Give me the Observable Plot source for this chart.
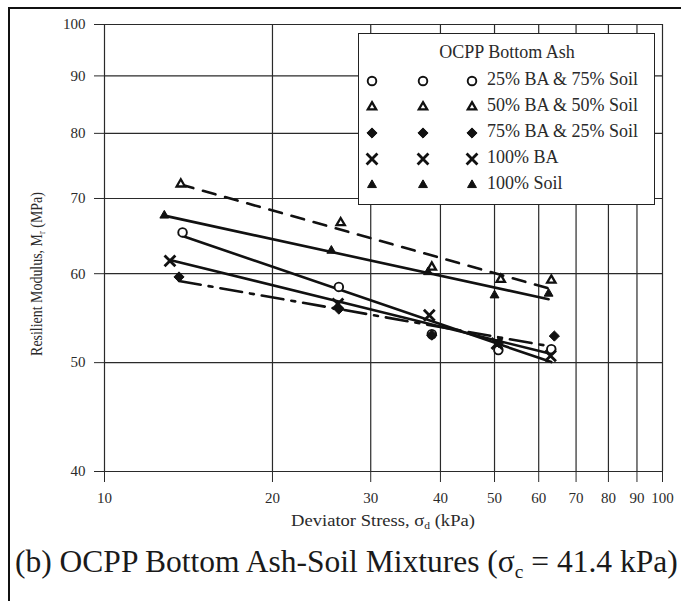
<!DOCTYPE html>
<html>
<head>
<meta charset="utf-8">
<script src="https://cdn.jsdelivr.net/npm/d3@7"></script>
<script src="https://cdn.jsdelivr.net/npm/@observablehq/plot@0.6"></script>
<style>
  html, body { margin: 0; padding: 0; background: #fff; }
  #page { position: relative; width: 681px; height: 601px; overflow: hidden; background: #fff;
          font-family: "Liberation Serif", "Times New Roman", serif; color: #222; }
  #frame { position: absolute; left: 8px; top: 7px; width: 800px; height: 800px;
           border-top: 2px solid #111; border-left: 2px solid #111; }
  #chart { position: absolute; left: 0; top: 0; }
  .ovl { position: absolute; white-space: nowrap; color: #2a2a2a; font-family: "Liberation Serif", "Times New Roman", serif; }
  #ytitle { left: 37px; top: 274px; font-size: 16px; transform: translate(-50%, -50%) rotate(-90deg) scaleX(0.87); }
  #xtitle { left: 383px; top: 521px; font-size: 16px; transform: translate(-50%, -50%) scaleX(1.16); }
  #caption { left: 15px; top: 562px; font-size: 31.5px; transform: translate(0, -50%); color: #1a1a1a; }
  sub { font-size: 0.62em; vertical-align: -0.3em; line-height: 0; }
  #legend { position: absolute; left: 358px; top: 33px; width: 297px; height: 172px; box-sizing: border-box;
            background: #fff; border: 1.5px solid #222; }
  #legend text { font-family: "Liberation Serif", "Times New Roman", serif; }
</style>
</head>
<body>
<div id="page">
  <div id="chart"></div>
  <div id="legend"></div>
  <div id="frame"></div>
  <div class="ovl" id="ytitle">Resilient Modulus, M<sub>r</sub> (MPa)</div>
  <div class="ovl" id="xtitle">Deviator Stress, σ<sub>d</sub> (kPa)</div>
  <div class="ovl" id="caption">(b) OCPP Bottom Ash-Soil Mixtures (σ<sub>c</sub> = 41.4 kPa)</div>
</div>
<script>
// ---- Data ----
const xTicks = [10, 20, 30, 40, 50, 60, 70, 80, 90, 100];
const yTicks = [40, 50, 60, 70, 80, 90, 100];
const legendTitle = "OCPP Bottom Ash";
const seriesNames = ["25% BA & 75% Soil", "50% BA & 50% Soil", "75% BA & 25% Soil", "100% BA", "100% Soil"];

const stressBA25 = [13.8, 26.3, 38.6, 50.8, 63.2];
const modulusBA25 = [65.3, 58.4, 53.0, 51.3, 51.4];
const stressBA50 = [13.7, 26.5, 38.6, 51.3, 63.2];
const modulusBA50 = [72.1, 66.6, 60.8, 59.3, 59.2];
const stressBA75 = [13.6, 26.3, 38.6, 50.9, 64.0];
const modulusBA75 = [59.6, 55.8, 52.9, 52.1, 52.8];
const stressBA100 = [13.1, 26.2, 38.2, 50.5, 63.0];
const modulusBA100 = [61.6, 56.4, 55.1, 52.0, 50.7];
const stressSoil = [12.8, 25.5, 38.0, 50.0, 62.5];
const modulusSoil = [67.6, 62.9, 60.2, 57.4, 57.6];

// ---- Styles ----
const symbols = ["circle", "triangle", "diamond2", "times", "triangle"];
const fills = ["white", "white", "#111", "none", "#111"];
const radii = [4.3, 3.1, 4.6, 5.0, 3.3];
const markStroke = [1.9, 2.3, 1.0, 2.8, 1.0];
const dashes = [null, "13,10", "22,8,4,8", null, null];

const stresses = [stressBA25, stressBA50, stressBA75, stressBA100, stressSoil];
const moduli = [modulusBA25, modulusBA50, modulusBA75, modulusBA100, modulusSoil];

const points = seriesNames.map((s, i) => stresses[i].map((x, j) => ({series: s, x, y: moduli[i][j]})));

// power-law fit (straight line in log-log), drawn over each series' stress range
function powerFit(pts) {
  const lx = pts.map(p => Math.log(p.x)), ly = pts.map(p => Math.log(p.y));
  const mx = d3.mean(lx), my = d3.mean(ly);
  const b = d3.sum(lx, (v, k) => (v - mx) * (ly[k] - my)) / d3.sum(lx, v => (v - mx) ** 2);
  const a = my - b * mx;
  const [x0, x1] = d3.extent(pts, p => p.x);
  return [x0, x1].map(x => ({x, y: Math.exp(a + b * Math.log(x))}));
}
const fits = points.map(powerFit);

const marks = [
  Plot.ruleX(xTicks, {stroke: "#2a2a2a", strokeWidth: 1.2}),
  Plot.ruleY(yTicks, {stroke: "#2a2a2a", strokeWidth: 1.2})
];
fits.forEach((f, i) => {
  marks.push(Plot.line(f, {x: "x", y: "y", stroke: "#111", strokeWidth: 2.6,
    strokeDasharray: dashes[i] || undefined}));
});
points.forEach((p, i) => {
  marks.push(Plot.dot(p, {x: "x", y: "y", symbol: () => symbols[i], r: radii[i],
    fill: fills[i], stroke: "#111", strokeWidth: markStroke[i]}));
});

const chart = Plot.plot({
  width: 681,
  height: 540,
  marginLeft: 104,
  marginRight: 19,
  marginTop: 24,
  marginBottom: 69,
  style: {fontFamily: "'Liberation Serif', 'Times New Roman', serif", fontSize: "15px", color: "#2a2a2a", background: "transparent"},
  x: {type: "log", domain: [10, 100], ticks: xTicks, tickFormat: d3.format("d"), tickSize: 11, tickPadding: 10, label: null},
  y: {type: "log", domain: [40, 100], ticks: yTicks, tickFormat: d3.format("d"), tickSize: 10, tickPadding: 9, label: null},
  symbol: {type: "identity"},
  marks
});
document.getElementById("chart").appendChild(chart);

// ---- Legend ----
const lg = d3.select("#legend").append("svg").attr("width", 294).attr("height", 169)
  .style("position", "absolute").style("left", "0px").style("top", "0px");
lg.append("text").attr("x", 148).attr("y", 20).attr("text-anchor", "middle").attr("dominant-baseline", "middle")
  .attr("font-size", 18).attr("fill", "#2a2a2a").text(legendTitle);
const symMap = {circle: d3.symbolCircle, triangle: d3.symbolTriangle, diamond2: d3.symbolDiamond2, times: d3.symbolTimes};
seriesNames.forEach((s, i) => {
  const yy = 47 + i * 26;
  [13, 64, 113].forEach(xx => {
    lg.append("path").attr("transform", `translate(${xx},${yy})`)
      .attr("d", d3.symbol(symMap[symbols[i]], Math.PI * radii[i] * radii[i])())
      .attr("fill", fills[i]).attr("stroke", "#111").attr("stroke-width", markStroke[i]);
  });
  lg.append("text").attr("x", 128).attr("y", yy).attr("dominant-baseline", "middle")
    .attr("font-size", 18).attr("fill", "#2a2a2a").text(s);
});
</script>
</body>
</html>
